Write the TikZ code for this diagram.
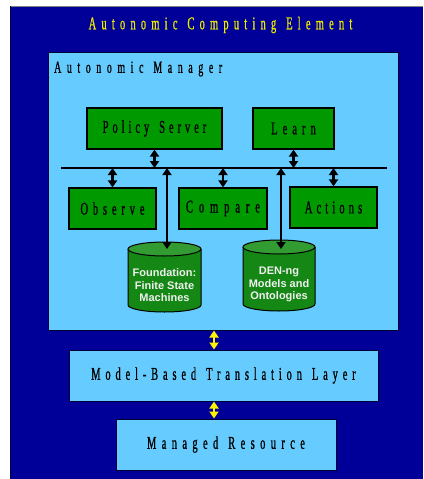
\documentclass[tikz,border=0pt]{standalone}
\usepackage{fontspec}
\usetikzlibrary{arrows.meta}
\setsansfont{Liberation Sans}
\newfontfamily\spacedserif[FakeStretch=0.58,LetterSpace=29,FakeBold=0.8]{Liberation Serif}
\newcommand\wgap{\hspace{10pt}}
\definecolor{navyback}{RGB}{0,0,153}
\definecolor{skyfill}{RGB}{102,204,255}
\definecolor{leafgreen}{RGB}{0,153,0}
\definecolor{cylbody}{RGB}{20,135,20}
\definecolor{cyltop}{RGB}{50,155,50}
\definecolor{titleyellow}{RGB}{235,235,0}
\tikzset{
  greenbox/.style={draw=black, line width=1.2pt, fill=leafgreen,
    inner sep=0pt, font=\spacedserif\fontsize{18}{18}\selectfont},
  skybox/.style={draw=black!80!blue, line width=1pt, fill=skyfill,
    inner sep=0pt, font=\spacedserif\fontsize{18}{18}\selectfont},
  dbl/.style={line width=2.2pt, {Triangle[length=7pt,width=9pt]}-{Triangle[length=7pt,width=9pt]}},
  ydbl/.style={dbl, draw=yellow},
  cyltext/.style={font=\sffamily\bfseries\fontsize{11}{12.5}\selectfont,
    text=white!94!black, align=center, inner sep=0pt},
}
\begin{document}
\begin{tikzpicture}[x=1pt,y=1pt]
\useasboundingbox (0,0) rectangle (423,-479);
% outer element
\fill[navyback] (10,-6) rectangle (423,-479);
\draw[gray, line width=1pt] (10,-6) -- (423,-6);
\draw[black!70!blue, line width=0.8pt] (10,-6) -- (10,-479);
\node[font=\spacedserif\fontsize{18}{18}\selectfont, text=titleyellow] (title) at (220.5,-25) {Autonomic\wgap Computing\wgap Element};

% autonomic manager
\node[skybox, minimum width=350pt, minimum height=278pt] (mgr) at (223,-191) {};
\node[anchor=west, font=\spacedserif\fontsize{17}{17}\selectfont\addfontfeature{LetterSpace=33}, inner sep=0pt] (mgrlabel) at (54,-69) {Autonomic\wgap Manager};

\node[greenbox, minimum width=135pt, minimum height=41pt] (ps) at (154.5,-128.5) {\addfontfeature{LetterSpace=22}Policy\wgap Server};
\node[greenbox, minimum width=81pt, minimum height=41pt] (learn) at (293.5,-128.5) {\addfontfeature{LetterSpace=28}Learn};
\node[greenbox, minimum width=87pt, minimum height=41pt] (obs) at (112.5,-208.5) {\addfontfeature{LetterSpace=27}Observe};
\node[greenbox, minimum width=88pt, minimum height=41pt] (cmp) at (223,-208.5) {\addfontfeature{LetterSpace=33}Compare};
\node[greenbox, minimum width=87pt, minimum height=41pt] (act) at (333.5,-207.5) {\addfontfeature{LetterSpace=23}Actions};

% bus
\coordinate (busL) at (61,-168);
\coordinate (busR) at (387,-168);
\draw[line width=1.5pt] (busL) -- (busR);

% cylinders
\fill[cylbody] (128,-249) -- (128,-305) arc[start angle=180, end angle=360, x radius=36.5, y radius=7] -- (201,-249) -- cycle;
\draw[line width=1pt] (128,-249) -- (128,-305) arc[start angle=180, end angle=360, x radius=36.5, y radius=7] -- (201,-249);
\draw[line width=1pt, fill=cyltop] (164.5,-249) ellipse [x radius=36.5, y radius=7];
\coordinate (fsmtop) at (167,-249);
\node[cyltext] (fsm) at (164.5,-285.5) {Foundation:\\Finite State\\Machines};

\fill[cylbody] (243,-247) -- (243,-304) arc[start angle=180, end angle=360, x radius=36, y radius=7] -- (315,-247) -- cycle;
\draw[line width=1pt] (243,-247) -- (243,-304) arc[start angle=180, end angle=360, x radius=36, y radius=7] -- (315,-247);
\draw[line width=1pt, fill=cyltop] (279,-247) ellipse [x radius=36, y radius=7];
\coordinate (dentop) at (281,-249);
\node[cyltext] (den) at (279,-284.5) {DEN-ng\\Models and\\Ontologies};

% connectors to the bus
\draw[dbl] (ps.south) -- (ps.south |- busL);
\draw[dbl] (learn.south) -- (learn.south |- busL);
\draw[dbl] (obs.north) -- (obs.north |- busL);
\draw[dbl] (cmp.north) -- (cmp.north |- busL);
\draw[dbl] (act.north) -- (act.north |- busL);
\draw[dbl] (fsmtop |- busL) -- (fsmtop);
\draw[dbl] (dentop |- busL) -- (dentop);

% lower layers
\node[skybox, minimum width=309pt, minimum height=51pt] (tl) at (223.5,-375.5) {\addfontfeature{LetterSpace=27}Model-Based\wgap Translation\wgap Layer};
\node[skybox, minimum width=220pt, minimum height=51pt] (mr) at (226,-444.5) {\addfontfeature{LetterSpace=30}Managed\wgap Resource};
\coordinate (ylink) at (214,0);
\draw[ydbl] (ylink |- mgr.south) -- (ylink |- tl.north);
\draw[ydbl] (ylink |- tl.south) -- (ylink |- mr.north);
\end{tikzpicture}
\end{document}
